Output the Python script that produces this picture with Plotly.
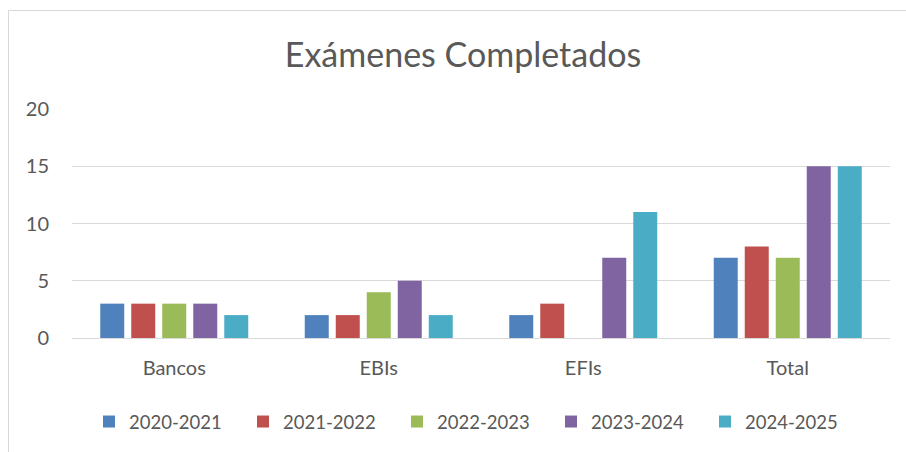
import plotly.graph_objects as go

categories = ["Bancos", "EBIs", "EFIs", "Total"]
series_names = ["2020-2021", "2021-2022", "2022-2023", "2023-2024", "2024-2025"]
values_2020 = [3, 2, 2, 7]
values_2021 = [3, 2, 3, 8]
values_2022 = [3, 4, 0, 7]
values_2023 = [3, 5, 7, 15]
values_2024 = [2, 2, 11, 15]
colors = ["#4F81BD", "#C0504D", "#9BBB59", "#8064A2", "#4BACC6"]
y_ticks = [0, 5, 10, 15, 20]

all_values = [values_2020, values_2021, values_2022, values_2023, values_2024]
FONT = "Lato"
TXT = "#595959"

fig = go.Figure()
for name, vals, col in zip(series_names, all_values, colors):
    fig.add_trace(go.Bar(x=categories, y=vals, name=name, marker=dict(color=col, line=dict(width=0))))

fig.update_layout(
    width=906, height=452,
    margin=dict(l=72, r=16, t=109, b=114, autoexpand=False),
    paper_bgcolor="white", plot_bgcolor="white",
    barmode="group", bargap=0.242, bargroupgap=0.226,
    title=dict(text="Exámenes Completados", x=463 / 906, xanchor="center", y=1 - 55/452, yanchor="middle",
               font=dict(family=FONT, size=34, color=TXT)),
    font=dict(family=FONT, size=20, color=TXT),
    xaxis=dict(showgrid=False, ticks="", showline=False, automargin=False, ticklabelstandoff=16,
               tickfont=dict(size=20, color=TXT)),
    yaxis=dict(range=[0, 20], tickvals=y_ticks, gridcolor="#D9D9D9", gridwidth=1, automargin=False,
               zeroline=True, zerolinecolor="#D9D9D9", zerolinewidth=1,
               ticks="", ticklabelstandoff=22, tickfont=dict(size=20, color=TXT)),
    legend=dict(orientation="h", x=(101 - 12) / 906, xanchor="left", xref="container",
                y=1 - 422 / 452, yanchor="middle", yref="container",
                font=dict(size=18.5, color=TXT), entrywidth=109, entrywidthmode="pixels",
                itemwidth=30, traceorder="normal"),
    shapes=[dict(type="rect", xref="paper", yref="paper",
                 x0=(8.5 - 72) / 818, x1=(912 - 72) / 818,
                 y0=(338 - 460) / 229, y1=(338 - 10.5) / 229,
                 line=dict(color="#D9D9D9", width=1), fillcolor="rgba(0,0,0,0)", layer="below")],
)

fig.write_html("out.html", config={"displayModeBar": False},
               post_script="document.body.style.margin='0';")
